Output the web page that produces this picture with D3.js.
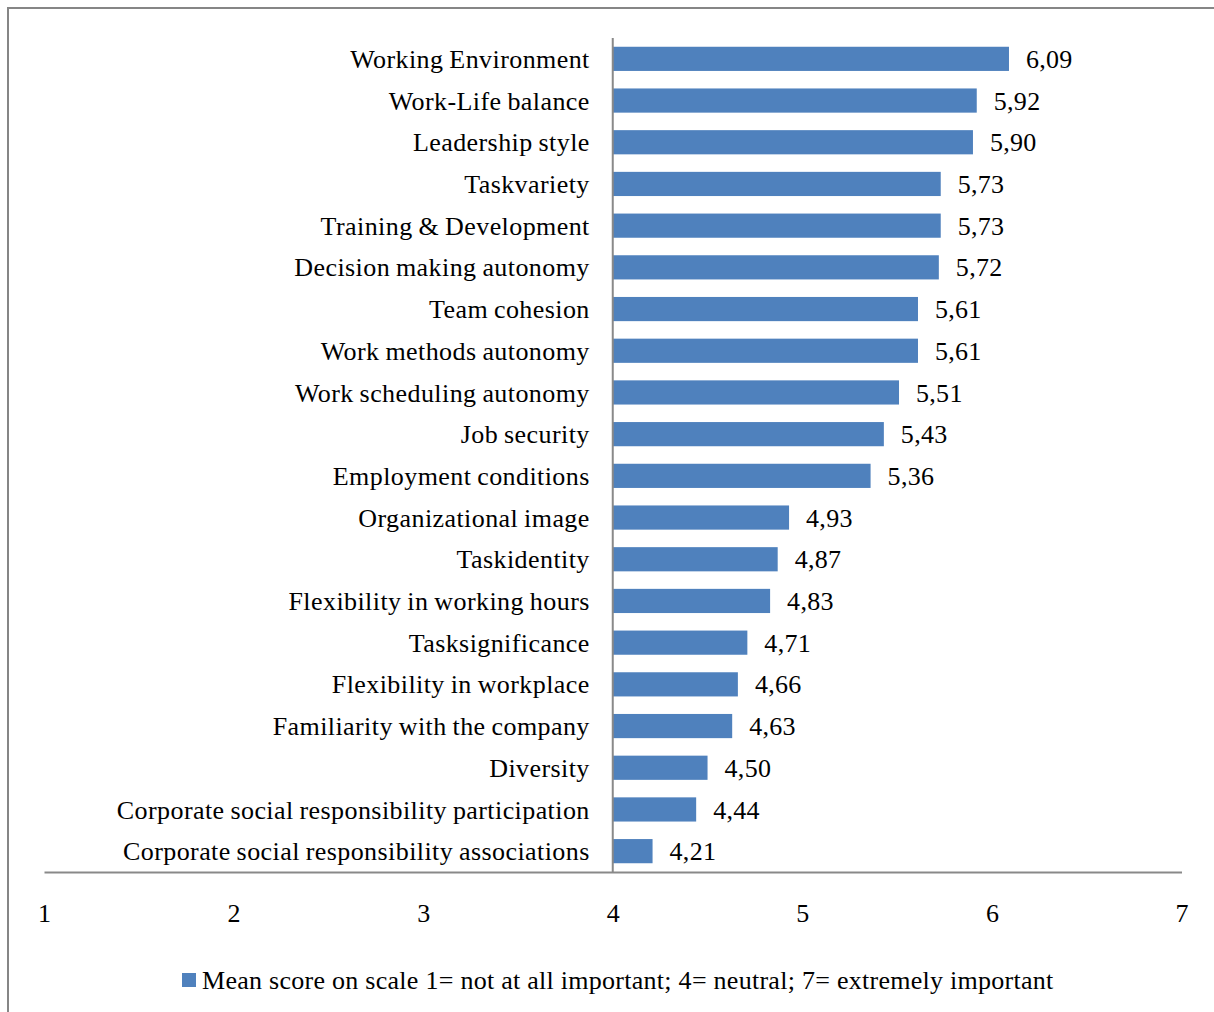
<!DOCTYPE html>
<html>
<head>
<meta charset="utf-8">
<script src="https://cdn.jsdelivr.net/npm/d3@7/dist/d3.min.js"></script>
<style>
  html, body { margin: 0; padding: 0; background: #fff; }
  svg { display: block; }
  text { font-family: "Liberation Serif", "Times New Roman", serif; fill: #000; }
</style>
</head>
<body>
<svg id="chart" width="1214" height="1012"></svg>
<script>
// Work-attribute importance, mean scores (1-7 scale)
const categories = [
  "Working Environment",
  "Work-Life balance",
  "Leadership style",
  "Taskvariety",
  "Training & Development",
  "Decision making autonomy",
  "Team cohesion",
  "Work methods autonomy",
  "Work scheduling autonomy",
  "Job security",
  "Employment conditions",
  "Organizational image",
  "Taskidentity",
  "Flexibility in working hours",
  "Tasksignificance",
  "Flexibility in workplace",
  "Familiarity with the company",
  "Diversity",
  "Corporate social responsibility participation",
  "Corporate social responsibility associations"
];
const meanScores = [6.09, 5.92, 5.90, 5.73, 5.73, 5.72, 5.61, 5.61, 5.51, 5.43,
                    5.36, 4.93, 4.87, 4.83, 4.71, 4.66, 4.63, 4.50, 4.44, 4.21];
const tickValues = [1, 2, 3, 4, 5, 6, 7];
const baseline = 4;
const legendLabel = "Mean score on scale 1= not at all important; 4= neutral; 7= extremely important";

const svg = d3.select("#chart");
const barColor = "#4F81BD";
const axisColor = "#898989";
const fontSize = 26;
const spacing = "0.3px";

// outer frame
svg.append("rect")
  .attr("x", 8).attr("y", 8)
  .attr("width", 1230).attr("height", 1030)
  .attr("fill", "none")
  .attr("stroke", "#868686")
  .attr("stroke-width", 2);

const x = d3.scaleLinear().domain([1, 7]).range([44, 1181.5]);
const y = d3.scaleBand().domain(categories).range([38, 872])
  .paddingInner(0.42).paddingOuter(0.21);

const data = categories.map((c, i) => ({ cat: c, val: meanScores[i] }));

// bars start at the neutral point
svg.append("g").selectAll("rect")
  .data(data).join("rect")
  .attr("x", x(baseline))
  .attr("y", d => y(d.cat))
  .attr("width", d => x(d.val) - x(baseline))
  .attr("height", y.bandwidth())
  .attr("fill", barColor);

// value labels
svg.append("g").selectAll("text")
  .data(data).join("text")
  .attr("x", d => x(d.val) + 17)
  .attr("y", d => y(d.cat) + y.bandwidth() / 2)
  .attr("dy", "0.35em")
  .attr("font-size", fontSize)
  .style("letter-spacing", spacing)
  .text(d => d3.format(".2f")(d.val).replace(".", ","));

// category labels
svg.append("g").selectAll("text")
  .data(data).join("text")
  .attr("x", x(baseline) - 23)
  .attr("y", d => y(d.cat) + y.bandwidth() / 2)
  .attr("dy", "0.35em")
  .attr("text-anchor", "end")
  .attr("font-size", fontSize)
  .style("letter-spacing", "0.42px")
  .style("word-spacing", "-1px")
  .text(d => d.cat);

// vertical category axis at the neutral point
svg.append("line")
  .attr("x1", x(baseline)).attr("x2", x(baseline))
  .attr("y1", 38).attr("y2", 872)
  .attr("stroke", axisColor).attr("stroke-width", 2);

// horizontal value axis
const xAxis = d3.axisBottom(x).tickValues(tickValues).tickSize(0).tickPadding(0)
  .tickFormat(d3.format("d"));
const gx = svg.append("g").attr("transform", "translate(0,872)").call(xAxis);
gx.select(".domain").attr("stroke", axisColor).attr("stroke-width", 2);
gx.selectAll(".tick text")
  .attr("y", 41)
  .attr("dy", "0.35em")
  .attr("font-size", fontSize)
  .attr("font-family", "Liberation Serif, Times New Roman, serif")
  .attr("fill", "#000");

// legend
const legend = svg.append("g").attr("transform", "translate(182,980)");
legend.append("rect")
  .attr("x", 0).attr("y", -7)
  .attr("width", 14).attr("height", 14)
  .attr("fill", barColor);
legend.append("text")
  .attr("x", 20).attr("y", 0).attr("dy", "0.35em")
  .attr("font-size", fontSize)
  .style("letter-spacing", "0.27px")
  .text(legendLabel);
</script>
</body>
</html>
